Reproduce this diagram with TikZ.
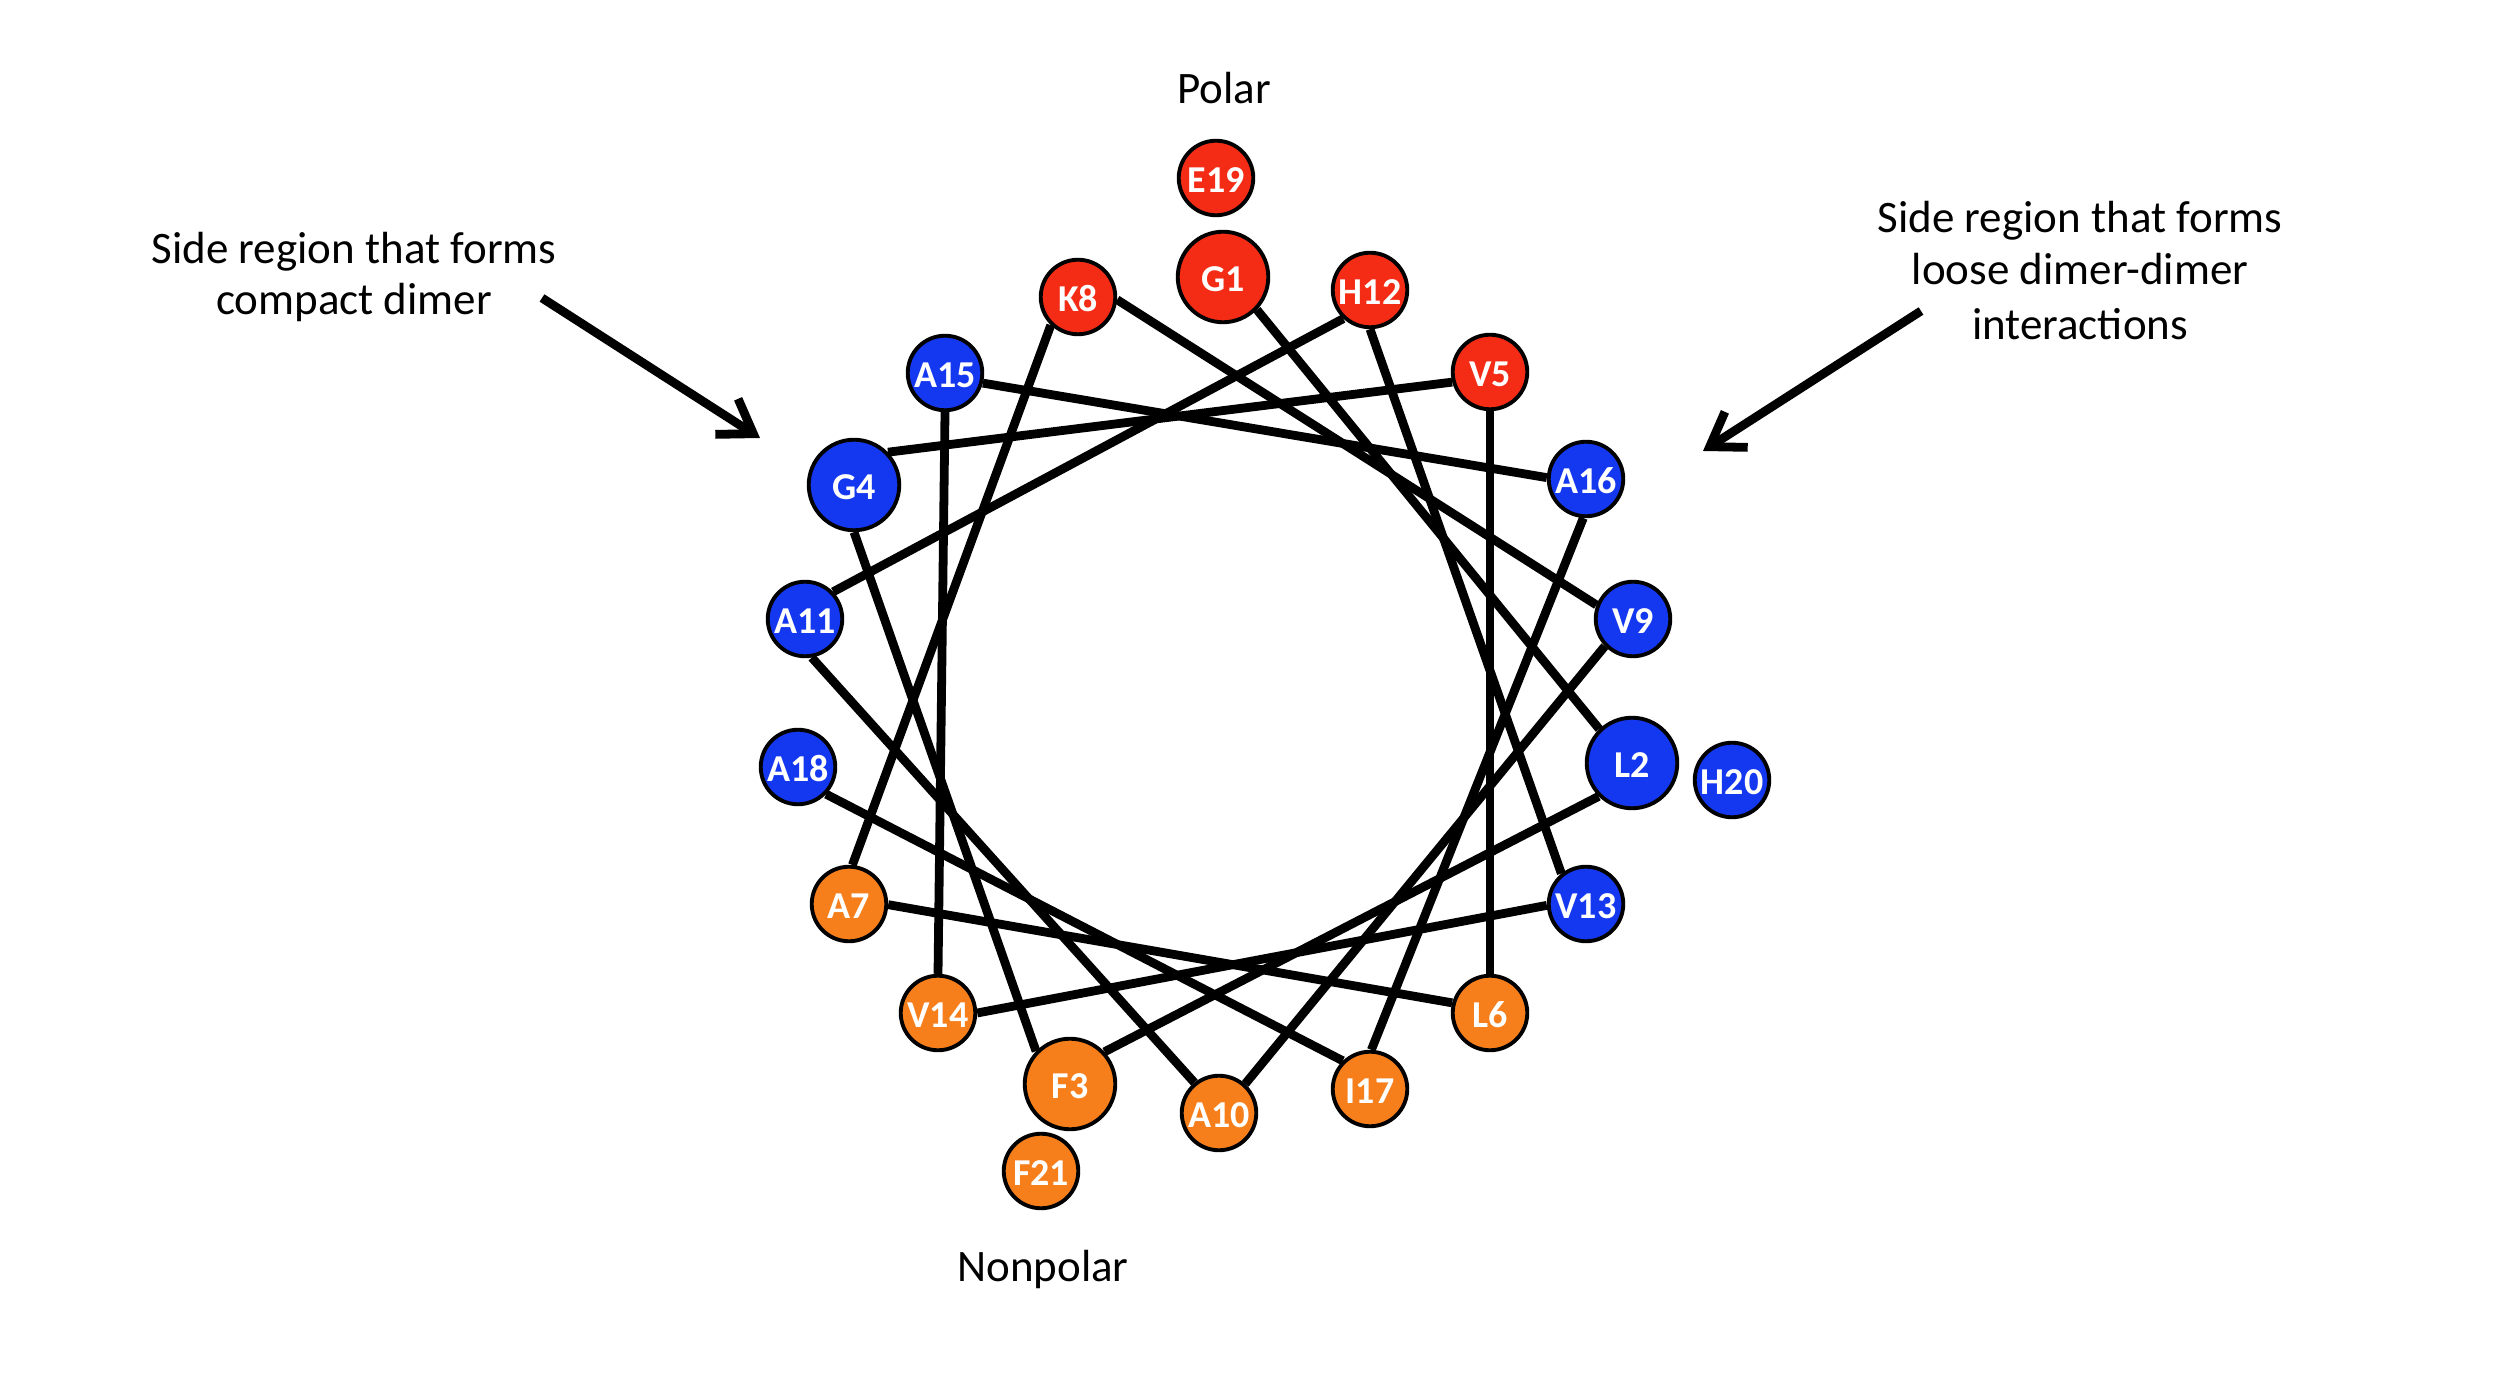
\documentclass[tikz,border=0pt]{standalone}
\usepackage{fontspec}
\setmainfont{Carlito}
\usetikzlibrary{arrows.meta}
\definecolor{polarred}{HTML}{F42C16}
\definecolor{nonpolarorange}{HTML}{F77F1B}
\definecolor{sideblue}{HTML}{1438F0}
\tikzset{
  residue/.style={circle,draw=black,line width=1.1pt,inner sep=0pt,minimum size=0.745cm,text=white,text height=8.4pt,text depth=0pt,font=\fontsize{10.8}{12}\selectfont\bfseries},
  bigresidue/.style={residue,minimum size=0.905cm},
  redres/.style={fill=polarred},
  orangeres/.style={fill=nonpolarorange},
  blueres/.style={fill=sideblue},
  link/.style={line width=2.5pt},
  pointer/.style={line width=2.5pt,-{Straight Barb[length=9pt,width=12pt,line width=2.5pt]}},
  caption/.style={align=center,text=black,font=\fontsize{12.8}{15.2}\selectfont}
}
\begin{document}
\begin{tikzpicture}[x=0.01cm,y=-0.01cm]
\useasboundingbox (0,0) rectangle (2500,1380);
\node[bigresidue,redres] (G1) at (1223,277) {G1};
\node[residue,redres] (E19) at (1216,178) {E19};
\node[residue,redres] (K8) at (1078,297) {K8};
\node[residue,redres] (H12) at (1370,290) {H12};
\node[residue,redres] (V5) at (1490,372) {V5};
\node[residue,blueres] (A15) at (945,373) {A15};
\node[bigresidue,blueres] (G4) at (854,485) {G4};
\node[residue,blueres] (A11) at (805,619) {A11};
\node[residue,blueres] (A18) at (798,767) {A18};
\node[residue,blueres] (A16) at (1586,479) {A16};
\node[residue,blueres] (V9) at (1633,619) {V9};
\node[bigresidue,blueres] (L2) at (1632,763) {L2};
\node[residue,blueres] (H20) at (1732,780) {H20};
\node[residue,blueres] (V13) at (1586,904) {V13};
\node[residue,orangeres] (A7) at (849,904) {A7};
\node[residue,orangeres] (V14) at (938,1013) {V14};
\node[bigresidue,orangeres] (F3) at (1070,1084) {F3};
\node[residue,orangeres] (F21) at (1041,1171) {F21};
\node[residue,orangeres] (A10) at (1219,1113) {A10};
\node[residue,orangeres] (I17) at (1370,1089) {I17};
\node[residue,orangeres] (L6) at (1490,1013) {L6};
\draw[link] (G1.-44) -- (L2.134);
\draw[link] (L2.225) -- (F3.43);
\draw[link] (F3.136) -- (G4.270);
\draw[link] (G4.44) -- (V5.195);
\draw[link] (V5.270) -- (L6.90);
\draw[link] (L6.165) -- (A7.-1);
\draw[link] (A7.85) -- (K8.226);
\draw[link] (K8.-4) -- (V9.159);
\draw[link] (V9.224) -- (A10.48);
\draw[link] (A10.129) -- (A11.280);
\draw[link] (A11.44) -- (H12.227);
\draw[link] (H12.270) -- (V13.129);
\draw[link] (V13.182) -- (V14.0);
\draw[link] (V14.90) -- (A15.270);
\draw[link] (A15.-15) -- (A16.178);
\draw[link] (A16.266) -- (I17.88);
\draw[link] (I17.134) -- (A18.-44);
\node[caption] (polar) at (1224,88) {Polar};
\node[caption] (nonpolar) at (1043,1269) {Nonpolar};
\node[caption] (compact) at (354,277) {Side region that forms\\[-0.7pt]compact dimer};
\node[caption] (loose) at (2080,271) {Side region that forms\\[-0.5pt]loose dimer-dimer\\[0.5pt]interactions};
\coordinate (compactstart) at (542,298);
\coordinate (compacttip) at (760,438);
\coordinate (loosestart) at (1921,311);
\coordinate (loosetip) at (1703,451);
\draw[pointer] (compactstart) -- (compacttip);
\draw[pointer] (loosestart) -- (loosetip);
\end{tikzpicture}
\end{document}
